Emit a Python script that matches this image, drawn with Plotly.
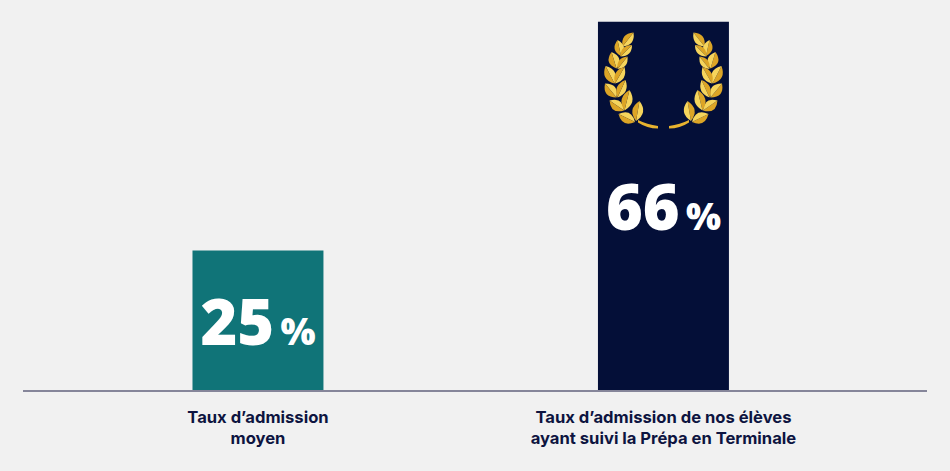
import plotly.graph_objects as go

W, H = 950, 471
LEFT, RIGHT, TOP, BOTTOM = 23, 23, 0, 81

categories = ["Taux d’admission<br>moyen",
              "Taux d’admission de nos élèves<br>ayant suivi la Prépa en Terminale"]
rates = [25, 66]
bar_colors = ["#107478", "#040f38"]

# laurel leaves of the left branch, (base x, base y, tip x, tip y, half width) in px
leaves = [
    (622.5, 46.5, 633.5, 32.5, 7),
    (621, 56, 617.5, 40, 7),
    (620.5, 56.5, 632, 45, 6),
    (616.5, 68.5, 611.5, 52, 8),
    (617.5, 69, 627.5, 56.5, 6),
    (614.5, 83.5, 605.5, 66, 8),
    (615, 83.5, 624.5, 67, 7),
    (616.5, 97.5, 605, 83.5, 8),
    (617.5, 97.5, 625.5, 80, 7),
    (624, 110.5, 609.5, 100.5, 8),
    (624.5, 110.5, 629.5, 90, 8),
    (635, 122, 618.5, 114, 8),
    (636, 121, 639.5, 101, 8),
]
MIRROR = 1327


def px_x(x):
    return (x - LEFT) / (W - LEFT - RIGHT)


def px_y(y):
    return 1 - (y - TOP) / (H - TOP - BOTTOM)


def half_leaf(bx, by, tx, ty, w, color):
    # one side of a leaf, from the midrib out to a curved edge
    mx, my = (bx + tx) / 2, (by + ty) / 2
    dx, dy = tx - bx, ty - by
    length = (dx ** 2 + dy ** 2) ** 0.5
    cx, cy = mx - dy / length * w * 1.35, my + dx / length * w * 1.35
    path = (f"M {px_x(bx)} {px_y(by)} Q {px_x(cx)} {px_y(cy)} {px_x(tx)} {px_y(ty)} Z")
    return dict(type="path", xref="paper", yref="paper", path=path,
                fillcolor=color, line_width=0, layer="above")


shapes = []
for bx, by, tx, ty, w in leaves:
    shapes.append(half_leaf(bx, by, tx, ty, w, "#f6d55c"))
    shapes.append(half_leaf(bx, by, tx, ty, -w, "#dca526"))
    shapes.append(half_leaf(MIRROR - bx, by, MIRROR - tx, ty, w, "#dca526"))
    shapes.append(half_leaf(MIRROR - bx, by, MIRROR - tx, ty, -w, "#f6d55c"))

# stems under the wreath
for flip in (False, True):
    xs = [638, 647, 658, 658, 647, 638]
    ys = [120, 124.5, 126, 128.5, 128.5, 122.5]
    if flip:
        xs = [MIRROR - x for x in xs]
    p = f"M {px_x(xs[0])} {px_y(ys[0])} Q {px_x(xs[1])} {px_y(ys[1])} {px_x(xs[2])} {px_y(ys[2])} "
    p += f"L {px_x(xs[3])} {px_y(ys[3])} Q {px_x(xs[4])} {px_y(ys[4])} {px_x(xs[5])} {px_y(ys[5])} Z"
    shapes.append(dict(type="path", xref="paper", yref="paper", path=p,
                       fillcolor="#e8b32f", line_width=0, layer="above"))

labels = [f"{v}<span style='font-size:37px'>\u2009%</span>" for v in rates]

fig = go.Figure(go.Bar(
    x=categories, y=rates, width=0.323,
    marker=dict(color=bar_colors, line_width=0),
    text=labels, textposition="inside", insidetextanchor="middle",
    textangle=0, constraintext="none", cliponaxis=False,
    textfont=dict(family="Noto Sans", size=63, color="white", weight=900),
    hoverinfo="skip",
))

fig.update_layout(
    width=W, height=H, margin=dict(l=LEFT, r=RIGHT, t=TOP, b=BOTTOM),
    paper_bgcolor="#f1f1f1", plot_bgcolor="#f1f1f1",
    showlegend=False, shapes=shapes,
)
fig.update_xaxes(range=[-0.5795, 1.65], showgrid=False, ticks="", ticklabelstandoff=11,
                 showline=True, linecolor="#86869a", linewidth=1.5,
                 tickangle=0, tickfont=dict(family="Inter", size=16.6, color="#0d1440", weight=700))
fig.update_yaxes(range=[0, 69.9], visible=False, showgrid=False, zeroline=False)

# page has a default body margin, drop it so the figure fills the window
fig.write_html("out.html", config=dict(displayModeBar=False),
               post_script="document.body.style.margin='0';document.body.style.overflow='hidden';")
